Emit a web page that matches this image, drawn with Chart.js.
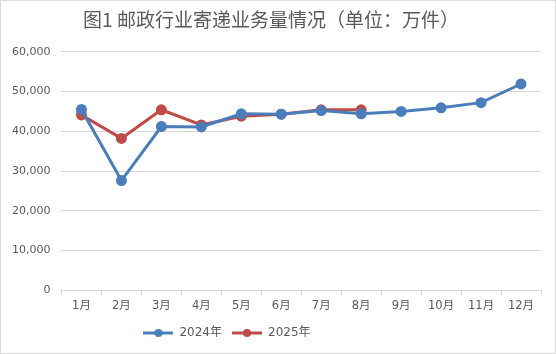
<!DOCTYPE html>
<html>
<head>
<meta charset="utf-8">
<script src="https://cdn.jsdelivr.net/npm/chart.js@4/dist/chart.umd.min.js"></script>
<style>
  html, body { margin: 0; padding: 0; background: #fff; }
  #wrap { position: relative; width: 554px; height: 352px; border: 1px solid #d9d9d9; }
</style>
</head>
<body>
<div id="wrap"><canvas id="chart" width="554" height="352"></canvas></div>
<script>
// 月份
const months = ['1月', '2月', '3月', '4月', '5月', '6月', '7月', '8月', '9月', '10月', '11月', '12月'];
// 业务量（万件）
const values2024 = [45500, 27600, 41200, 41100, 44400, 44300, 45200, 44400, 45000, 45900, 47200, 51900];
const values2025 = [44100, 38200, 45400, 41600, 43800, 44300, 45400, 45400];
const seriesNames = ['2024年', '2025年'];
const yTicks = [0, 10000, 20000, 30000, 40000, 50000, 60000];

const BLUE = '#4a7ebb';
const RED = '#be4b48';
const FONT = '"DejaVu Sans", "Noto Sans CJK SC", sans-serif';
const TITLE_FONT = '"Noto Sans CJK SC", "DejaVu Sans", sans-serif';

// 图例标记：线段中间带圆点
function legendMark(color) {
    const c = document.createElement('canvas');
    c.width = 30; c.height = 10;
    const g = c.getContext('2d');
    g.strokeStyle = color; g.lineWidth = 3;
    g.beginPath(); g.moveTo(0, 5); g.lineTo(30, 5); g.stroke();
    g.fillStyle = color;
    g.beginPath(); g.arc(15, 5, 4, 0, Math.PI * 2); g.fill();
    return c;
}

const colors = [BLUE, RED];

// 图例整体偏左（与原图一致）
const legendShift = {
    id: 'legendShift',
    afterLayout(chart) {
        chart.legend.left -= 44;
        chart.legend.right -= 44;
    }
};

new Chart(document.getElementById('chart'), {
    type: 'line',
    data: {
        labels: months,
        datasets: [
            { label: seriesNames[0], data: values2024, borderColor: BLUE, backgroundColor: BLUE,
              borderWidth: 3, pointRadius: 4, pointHoverRadius: 4, tension: 0 },
            { label: seriesNames[1], data: values2025, borderColor: RED, backgroundColor: RED,
              borderWidth: 3, pointRadius: 4, pointHoverRadius: 4, tension: 0 }
        ]
    },
    options: {
        responsive: false,
        animation: false,
        layout: { padding: { left: 0, right: 14, top: 6, bottom: 4 } },
        plugins: {
            title: {
                display: true,
                text: '图1 邮政行业寄递业务量情况（单位：万件）',
                color: '#595959',
                font: { family: TITLE_FONT, size: 19, weight: 'normal' },
                padding: { top: 1, bottom: 21 }
            },
            legend: {
                position: 'bottom',
                labels: {
                    color: '#595959',
                    font: { family: FONT, size: 12 },
                    usePointStyle: true,
                    pointStyleWidth: 30,
                    boxHeight: 10,
                    padding: 10,
                    generateLabels: chart => chart.data.datasets.map((ds, i) => ({
                        text: ds.label,
                        pointStyle: legendMark(colors[i]),
                        fontColor: '#595959',
                        lineWidth: 0,
                        datasetIndex: i
                    }))
                }
            },
            tooltip: { enabled: false }
        },
        scales: {
            x: {
                offset: true,
                grid: { offset: true, drawOnChartArea: false, drawTicks: true, tickLength: 5, color: '#d9d9d9' },
                border: { display: true, color: '#d9d9d9' },
                ticks: { color: '#595959', font: { family: FONT, size: 11.5 }, padding: 4, maxRotation: 0 }
            },
            y: {
                min: 0,
                max: 60000,
                afterBuildTicks: axis => { axis.ticks = yTicks.map(v => ({ value: v })); },
                grid: { color: '#d9d9d9', drawTicks: false },
                border: { display: false },
                ticks: {
                    color: '#595959',
                    font: { family: FONT, size: 11 },
                    padding: 11,
                    callback: v => v.toLocaleString('en-US')
                }
            }
        }
    },
    plugins: [legendShift]
});
</script>
</body>
</html>
